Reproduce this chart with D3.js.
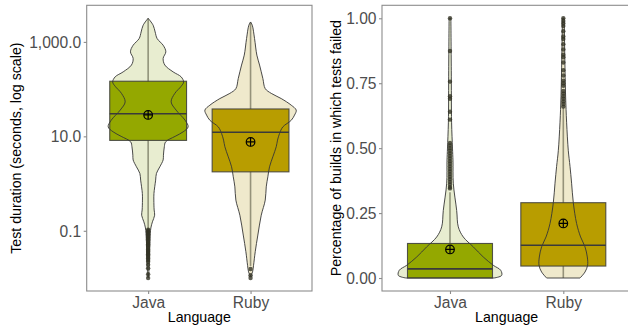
<!DOCTYPE html>
<html>
<head>
<meta charset="utf-8">
<script src="https://cdn.jsdelivr.net/npm/d3@7"></script>
<style>
  html, body { margin: 0; padding: 0; background: #fff; }
  svg { display: block; font-family: "Liberation Sans", Arial, sans-serif; }
</style>
</head>
<body>
<svg id="chart" width="628" height="331"></svg>
<script>
// ---- data -------------------------------------------------------------
const languages = ["Java", "Ruby"];
const boxFill = ["#94a800", "#b89d00"];
const violinFill = ["#e8edd0", "#efe9cc"];

// Test duration (seconds), summary statistics per language
const durQ1 = [8.2, 1.77];
const durMedian = [30, 12.2];
const durQ3 = [147, 38];
const durMean = [28.4, 7.6];
const durWhiskerLow = [0.108, 0.018];
const durWhiskerHigh = [3160, 2650];
const durOutliers = [
  [0.105, 0.1, 0.095, 0.09, 0.086, 0.082, 0.078, 0.074, 0.07, 0.066, 0.062, 0.058,
   0.055, 0.052, 0.049, 0.046, 0.043, 0.04, 0.038, 0.036, 0.034, 0.032, 0.03, 0.028,
   0.026, 0.024, 0.022, 0.019, 0.016, 0.012, 0.01],
  [0.0155, 0.0115, 0.01]
];
// density profiles: [log10(seconds), relative density]
const durDensityJava = [
  [3.5, 0], [3.353, 5], [3.21, 7], [3.07, 9], [2.93, 15], [2.79, 17.7], [2.65, 15],
  [2.51, 16.7], [2.365, 25], [2.26, 33], [2.15, 35.5], [2.06, 33], [1.91, 26.7],
  [1.73, 23], [1.555, 28], [1.34, 37], [1.2, 40], [1.095, 35], [1.0, 27], [0.884, 17.5],
  [0.78, 16.2], [0.6, 15.3], [0.5, 15], [0.355, 11.7], [0.215, 8.3], [0.073, 7.5],
  [-0.21, 5.8], [-0.35, 5.7], [-0.56, 6], [-0.67, 6.5], [-0.81, 4.3], [-0.94, 2.7],
  [-1.19, 1.8], [-1.51, 1.2], [-1.83, 0.8], [-2.0, 0]
];
const durDensityRuby = [
  [3.42, 0], [3.353, 1.7], [3.07, 4], [2.72, 6.3], [2.51, 9], [2.225, 12.3], [2.01, 14.7],
  [1.91, 20.7], [1.8, 30.7], [1.66, 40.7], [1.555, 45.7], [1.45, 44], [1.34, 40.7],
  [1.2, 32.3], [1.06, 29], [0.92, 27], [0.78, 25.7], [0.566, 22.3], [0.355, 19],
  [0.143, 17.3], [-0.07, 15.7], [-0.35, 14.7], [-0.67, 10.7], [-1.09, 7.3],
  [-1.44, 4.7], [-1.73, 3], [-1.87, 2], [-1.96, 0]
];
const durTicks = [0.1, 10, 1000];

// Share of builds in which tests failed
const failQ1 = [0, 0.046];
const failMedian = [0.035, 0.126];
const failQ3 = [0.133, 0.29];
const failMean = [0.11, 0.21];
const failWhiskerLow = [0, 0];
const failWhiskerHigh = [0.33, 0.656];
const failOutliers = [
  [1.0, 0.874, 0.756, 0.7, 0.69, 0.64, 0.61, 0.52, 0.51, 0.5, 0.49, 0.48, 0.47, 0.46,
   0.45, 0.44, 0.43, 0.42, 0.41, 0.4, 0.39, 0.38, 0.37, 0.36, 0.35, 0.345],
  [1.0, 0.99, 0.98, 0.97, 0.95, 0.93, 0.92, 0.9, 0.88, 0.86, 0.85, 0.83, 0.8, 0.78,
   0.76, 0.75, 0.74, 0.72, 0.71, 0.7, 0.69, 0.68, 0.67, 0.66]
];
// density profiles: [share, relative density]
const failDensityJava = [
  [1.0, 0.9], [0.8, 1.3], [0.6, 1.6], [0.5, 2.5], [0.45, 3], [0.365, 3.3], [0.26, 6.7],
  [0.197, 8.3], [0.158, 13.3], [0.12, 23.3], [0.081, 33.3], [0.049, 43.3], [0.03, 50.7],
  [0.01, 51.7], [0, 44]
];
const failDensityRuby = [
  [1.0, 0.9], [0.85, 1.5], [0.7, 2.3], [0.6, 3.3], [0.49, 5], [0.43, 6.7], [0.365, 8.3],
  [0.29, 10], [0.21, 13.3], [0.158, 17.3], [0.12, 21.7], [0.081, 24], [0.049, 24.3],
  [0.023, 21.7], [0, 16.7]
];
const failTicks = [0, 0.25, 0.5, 0.75, 1.0];

// ---- drawing ----------------------------------------------------------
const svg = d3.select("#chart");
const panelTop = 5.3, panelBottom = 291;

function drawPanel(opts) {
  const g = svg.append("g");
  const x = d3.scaleLinear().domain([0.4, 2.6]).range([opts.left, opts.right]);
  const y = opts.y;
  const step = x(2) - x(1);
  const maxDen = d3.max(opts.density.flat(), d => d[1]);
  const w = d3.scaleLinear().domain([0, maxDen]).range([0, opts.maxHalf * step]);

  g.append("rect").attr("x", opts.left).attr("y", panelTop)
    .attr("width", opts.right - opts.left).attr("height", panelBottom - panelTop).attr("fill", "#fff");

  languages.forEach((lang, i) => {
    const cx = x(i + 1);
    const dens = opts.density[i];
    const area = d3.area()
      .curve(d3.curveCatmullRom.alpha(0.5))
      .y(d => y(opts.fromDensity(d[0])))
      .x0(d => cx - w(d[1]))
      .x1(d => cx + w(d[1]));
    const half = step * 0.375;

    // violin body
    g.append("path").attr("d", area(dens)).attr("fill", violinFill[i]).attr("stroke", "none");
    // whisker
    g.append("line").attr("x1", cx).attr("x2", cx)
      .attr("y1", y(opts.wLow[i])).attr("y2", y(opts.wHigh[i]))
      .attr("stroke", "#3c3c28").attr("stroke-opacity", 0.5).attr("stroke-width", 1.6);
    // box
    g.append("rect").attr("x", cx - half).attr("width", 2 * half)
      .attr("y", y(opts.q3[i])).attr("height", y(opts.q1[i]) - y(opts.q3[i]))
      .attr("fill", boxFill[i]).attr("stroke", "#3a3a3a").attr("stroke-opacity", 0.85)
      .attr("stroke-width", 1.1);
    // violin outline
    g.append("path").attr("d", area(dens)).attr("fill", "none")
      .attr("stroke", "#363636").attr("stroke-width", 0.9);
    // median
    g.append("line").attr("x1", cx - half).attr("x2", cx + half)
      .attr("y1", y(opts.median[i])).attr("y2", y(opts.median[i]))
      .attr("stroke", "#3a3a3a").attr("stroke-width", 1.6);
    // outliers
    g.selectAll(null).data(opts.outliers[i]).join("circle")
      .attr("cx", cx).attr("cy", d => y(d)).attr("r", 2.2)
      .attr("fill", "#333326").attr("fill-opacity", 0.8);
    // mean marker (circle with cross)
    const my = y(opts.mean[i]), r = 4.3;
    g.append("circle").attr("cx", cx).attr("cy", my).attr("r", r)
      .attr("fill", "none").attr("stroke", "#000").attr("stroke-width", 1.2);
    g.append("path").attr("d", `M${cx - r},${my}H${cx + r}M${cx},${my - r}V${my + r}`)
      .attr("stroke", "#000").attr("stroke-width", 1.2);
  });

  // panel border
  g.append("rect").attr("x", opts.left).attr("y", panelTop)
    .attr("width", opts.right - opts.left).attr("height", panelBottom - panelTop)
    .attr("fill", "none").attr("stroke", "#8c8c8c").attr("stroke-width", 1.1);

  // y axis
  const ya = g.append("g").attr("transform", `translate(${opts.left},0)`)
    .call(d3.axisLeft(y).tickValues(opts.ticks).tickFormat(opts.format).tickSize(3).tickPadding(2.5));
  ya.select(".domain").remove();
  ya.selectAll(".tick line").attr("stroke", "#8c8c8c").attr("stroke-width", 1.1);
  ya.selectAll(".tick text").attr("fill", "#4d4d4d").attr("font-size", 15.6)
    .attr("font-family", "Liberation Sans, Arial, sans-serif").attr("dy", "0.36em");

  // x axis
  const xa = g.append("g").attr("transform", `translate(0,${panelBottom})`)
    .call(d3.axisBottom(x).tickValues([1, 2]).tickFormat(d => languages[d - 1]).tickSize(3).tickPadding(3));
  xa.select(".domain").remove();
  xa.selectAll(".tick line").attr("stroke", "#8c8c8c").attr("stroke-width", 1.1);
  xa.selectAll(".tick text").attr("fill", "#4d4d4d").attr("font-size", 15.6)
    .attr("font-family", "Liberation Sans, Arial, sans-serif");

  // titles
  g.append("text").attr("x", (opts.left + opts.right) / 2).attr("y", 322)
    .attr("text-anchor", "middle").attr("font-size", 14.2).attr("fill", "#000")
    .text("Language");
  g.append("text").attr("transform", `translate(${opts.titleX},${(panelTop + panelBottom) / 2}) rotate(-90)`)
    .attr("text-anchor", "middle").attr("font-size", 14.2).attr("fill", "#000")
    .text(opts.title);
}

const logLo = -2.275, logHi = 3.775;
drawPanel({
  left: 86.7, right: 312,
  y: d3.scaleLog().domain([Math.pow(10, logLo), Math.pow(10, logHi)]).range([panelBottom, panelTop]),
  fromDensity: v => Math.pow(10, v),
  density: [durDensityJava, durDensityRuby],
  maxHalf: 0.446,
  q1: durQ1, q3: durQ3, median: durMedian, mean: durMean,
  wLow: durWhiskerLow, wHigh: durWhiskerHigh, outliers: durOutliers,
  ticks: durTicks, format: d3.format(",.1f"),
  title: "Test duration (seconds, log scale)", titleX: 20.5
});

drawPanel({
  left: 382, right: 631.3,
  y: d3.scaleLinear().domain([-0.05, 1.05]).range([panelBottom, panelTop]),
  fromDensity: v => v,
  density: [failDensityJava, failDensityRuby],
  maxHalf: 0.456,
  q1: failQ1, q3: failQ3, median: failMedian, mean: failMean,
  wLow: failWhiskerLow, wHigh: failWhiskerHigh, outliers: failOutliers,
  ticks: failTicks, format: d3.format(".2f"),
  title: "Percentage of builds in which tests failed", titleX: 340.5
});
</script>
</body>
</html>
